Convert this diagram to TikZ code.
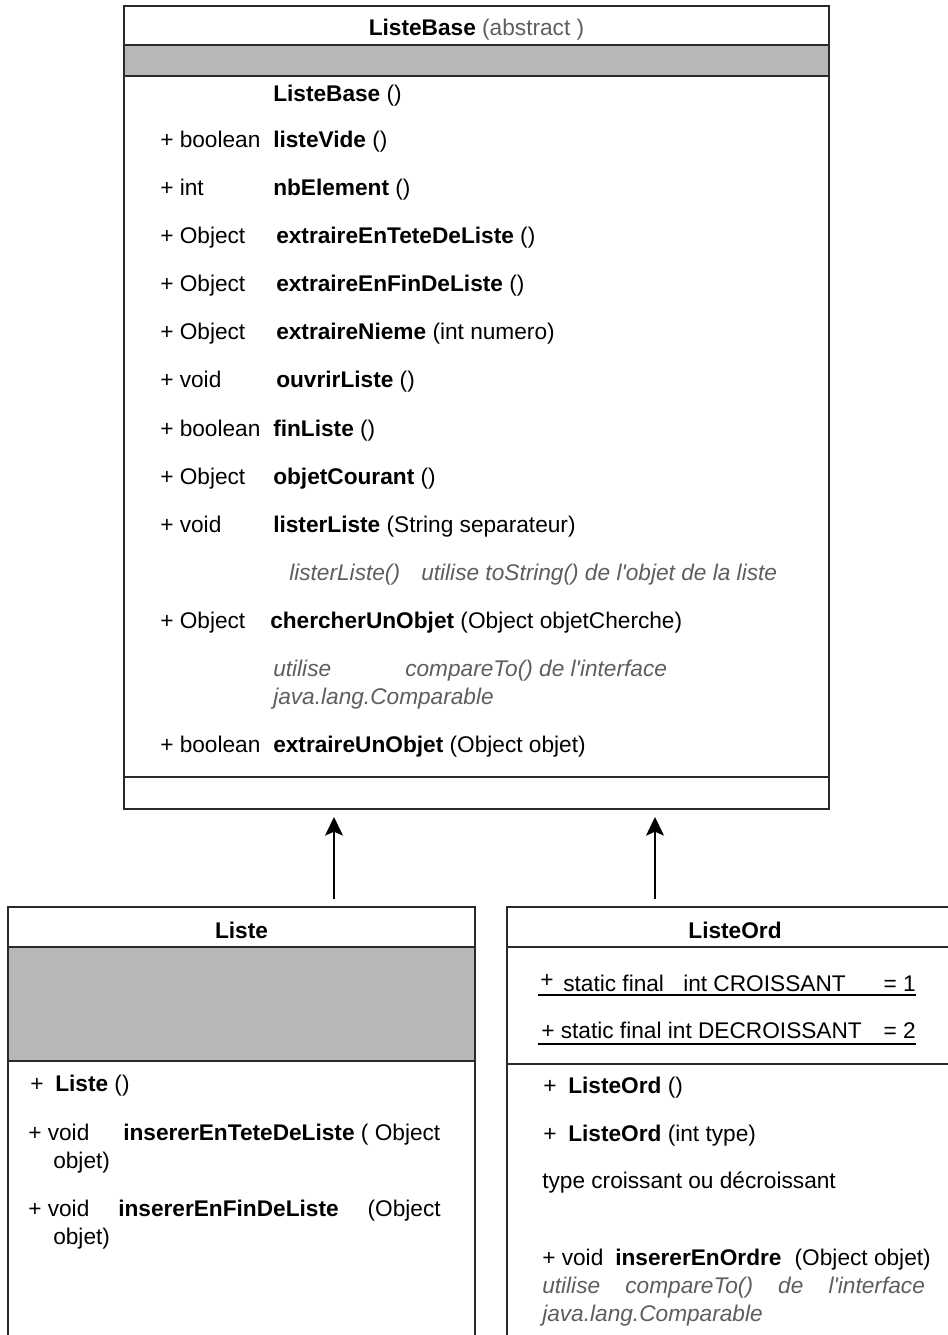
\documentclass[tikz,border=0pt]{standalone}
\usepackage{fontspec}
\setmainfont{Liberation Sans}
\usetikzlibrary{arrows.meta}
\definecolor{bandgray}{HTML}{B7B7B7}
\definecolor{notegray}{HTML}{5E5E5E}
\definecolor{edge}{HTML}{2A2A2A}
\newcommand{\apos}{\textquotesingle}
\begin{document}
\begin{tikzpicture}[x=0.75pt,y=-0.75pt,
  txt/.style={anchor=base west,inner sep=0pt,font=\fontsize{17}{21}\selectfont},
  ctr/.style={txt,anchor=base},
  rgt/.style={txt,anchor=base east},
  note/.style={txt,text=notegray,font=\fontsize{17}{21}\selectfont\itshape},
  frame/.style={draw=edge,line width=1.1pt},
  uline/.style={draw=black,line width=0.8pt},
  inherit/.style={-{Stealth[length=14pt,width=13.5pt,inset=3pt]},line width=0.9pt}
]
\clip (0,0) rectangle (948,1335);
\fill[white] (0,0) rectangle (948,1335);

% ---------- ListeBase ----------
\fill[bandgray] (124,45) rectangle (829,76);
\draw[frame] (124,6) rectangle (829,809);
\draw[frame] (124,45) -- (829,45) (124,76) -- (829,76) (124,777) -- (829,777);

\node[ctr] (bTitle) at (476.5,35) {\textbf{ListeBase} \textcolor{notegray}{(abstract )}};
\node[txt] (bCtor) at (273,101) {\textbf{ListeBase} ()};
\node[txt] (bT1) at (160,147) {+ boolean};
\node[txt] (bM1) at (273,147) {\textbf{listeVide} ()};
\node[txt] (bT2) at (160,195) {+ int};
\node[txt] (bM2) at (273,195) {\textbf{nbElement} ()};
\node[txt] (bT3) at (160,243) {+ Object};
\node[txt] (bM3) at (276,243) {\textbf{extraireEnTeteDeListe} ()};
\node[txt] (bT4) at (160,291) {+ Object};
\node[txt] (bM4) at (276,291) {\textbf{extraireEnFinDeListe} ()};
\node[txt] (bT5) at (160,339) {+ Object};
\node[txt] (bM5) at (276,339) {\textbf{extraireNieme} (int numero)};
\node[txt] (bT6) at (160,387) {+ void};
\node[txt] (bM6) at (276,387) {\textbf{ouvrirListe} ()};
\node[txt] (bT7) at (160,436) {+ boolean};
\node[txt] (bM7) at (273,436) {\textbf{finListe} ()};
\node[txt] (bT8) at (160,484) {+ Object};
\node[txt] (bM8) at (273,484) {\textbf{objetCourant} ()};
\node[txt] (bT9) at (160,532) {+ void};
\node[txt] (bM9) at (273,532) {\textbf{listerListe} (String separateur)};
\node[note] (bN1a) at (289,580) {listerListe()};
\node[note] (bN1b) at (421,580) {utilise toString() de l\apos objet de la liste};
\node[txt] (bT10) at (160,628) {+ Object};
\node[txt] (bM10) at (270,628) {\textbf{chercherUnObjet} (Object objetCherche)};
\node[note] (bN2a) at (273,676) {utilise};
\node[note] (bN2b) at (405,676) {compareTo() de l\apos interface};
\node[note] (bN2c) at (273,704) {java.lang.Comparable};
\node[txt] (bT11) at (160,752) {+ boolean};
\node[txt] (bM11) at (273,752) {\textbf{extraireUnObjet} (Object objet)};

% ---------- Liste ----------
\fill[bandgray] (8,947) rectangle (475,1061);
\draw[frame] (8,1350) -- (8,907) -- (475,907) -- (475,1350);
\draw[frame] (8,947) -- (475,947) (8,1061) -- (475,1061);

\node[ctr] (lTitle) at (241.5,938) {\textbf{Liste}};
\node[txt] (lP1) at (30,1091) {+};
\node[txt] (lM1) at (55,1091) {\textbf{Liste} ()};
\node[txt] (lT2) at (28,1140) {+ void};
\node[txt] (lM2) at (123,1140) {\textbf{insererEnTeteDeListe} ( Object};
\node[txt] (lA2) at (53,1168) {objet)};
\node[txt] (lT3) at (28,1216) {+ void};
\node[txt] (lM3) at (118,1216) {\textbf{insererEnFinDeListe}};
\node[rgt] (lB3) at (441,1216) {(Object};
\node[txt] (lA3) at (53,1244) {objet)};

% ---------- ListeOrd ----------
\draw[frame] (507,1350) -- (507,907) -- (963,907) -- (963,1350);
\draw[frame] (507,947) -- (963,947) (507,1064) -- (963,1064);

\node[ctr] (oTitle) at (735,938) {\textbf{ListeOrd}};
\node[txt] (oP1) at (540,987) {+};
\node[txt] (oS1) at (563,991) {static final};
\node[txt] (oC1) at (683,991) {int CROISSANT};
\node[rgt] (oV1) at (916,991) {= 1};
\node[txt] (oS2) at (541,1038) {+ static final int DECROISSANT};
\node[rgt] (oV2) at (916,1038) {= 2};
\draw[uline] (538,995) -- (916,995);
\draw[uline] (538,1044) -- (916,1044);

\node[txt] (oP3) at (543,1093) {+};
\node[txt] (oM3) at (568,1093) {\textbf{ListeOrd} ()};
\node[txt] (oP4) at (543,1141) {+};
\node[txt] (oM4) at (568,1141) {\textbf{ListeOrd} (int type)};
\node[txt] (oD4) at (542,1188) {type croissant ou décroissant};
\node[txt] (oT5) at (542,1265) {+ void};
\node[txt] (oM5) at (615,1265) {\textbf{insererEnOrdre}};
\node[rgt] (oA5) at (931,1265) {(Object objet)};
\node[note] (oN5a) at (542,1293) {\makebox[287pt][s]{utilise compareTo() de l\apos interface}};
\node[note] (oN5b) at (542,1321) {java.lang.Comparable};

% ---------- generalisation arrows ----------
\coordinate (listeUp) at (334,899);
\coordinate (baseInL) at (334,817);
\coordinate (ordUp) at (655,899);
\coordinate (baseInR) at (655,817);
\draw[inherit] (listeUp) -- (baseInL);
\draw[inherit] (ordUp) -- (baseInR);
\end{tikzpicture}
\end{document}
